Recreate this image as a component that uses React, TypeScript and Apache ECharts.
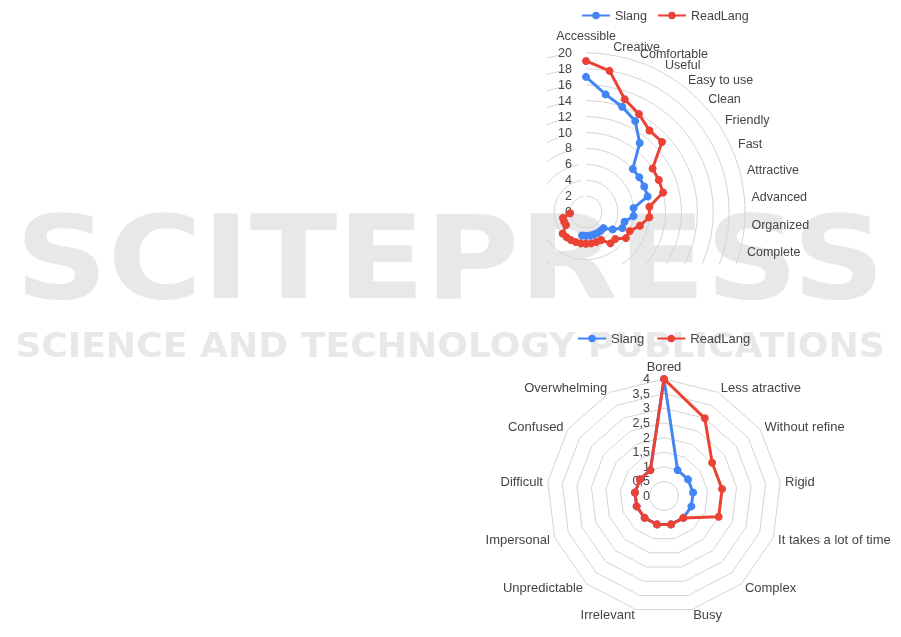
import React, { useEffect, useRef } from 'react';
import * as echarts from 'echarts';

// ---------- data ----------
const seriesNames = ['Slang', 'ReadLang'];
const seriesColors = ['#4285F4', '#EA4335'];

// top chart (radar of positive adjectives, only the upper-right part is visible)
const topCategories = [
  'Accessible', 'Creative', 'Comfortable', 'Useful', 'Easy to use', 'Clean',
  'Friendly', 'Fast', 'Attractive', 'Advanced', 'Organized', 'Complete',
];
const topCategoryCount = 38;
const topSlang = [17, 15, 14, 13, 11, 8, 8, 8, 8, 6, 6, 5, 5, 4, 3, 3, 3, 3, 3, 3, 3];
const topReadLang = [19, 18, 15, 14, 13, 13, 10, 10, 10, 8, 8, 7, 6, 6, 5, 5, 4, 4, 4, 4, 4, 4, 4, 4, 4, 3, 3, 3, 2];
const topTickMax = 20;
const topTickStep = 2;

// bottom chart (radar of negative adjectives)
const bottomCategories = [
  'Bored', 'Less atractive', 'Without refine', 'Rigid', 'It takes a lot of time',
  'Complex', 'Busy', 'Irrelevant', 'Unpredictable', 'Impersonal', 'Difficult',
  'Confused', 'Overwhelming',
];
const bottomSlang = [4, 1, 1, 1, 1, 1, 1, 1, 1, 1, 1, 1, 1];
const bottomReadLang = [4, 3, 2, 2, 2, 1, 1, 1, 1, 1, 1, 1, 1];
const bottomTickValues = [0, 0.5, 1, 1.5, 2, 2.5, 3, 3.5, 4];
const bottomTickLabels = ['0', '0,5', '1', '1,5', '2', '2,5', '3', '3,5', '4'];

// watermark texts
const watermarkTitle = 'SCITEPRESS';
const watermarkSubtitle = 'SCIENCE AND TECHNOLOGY PUBLICATIONS';

// ---------- styling ----------
const FONT = "'Liberation Sans', Arial, sans-serif";
const TEXT = '#444444';
const GRID = '#d4d4d4';
const WM = '#e8e8e8';
const LEGEND_ICON =
  'path://M0,3.8 L30,3.8 L30,6.2 L0,6.2 Z M11,5 A4,4 0 1,1 19,5 A4,4 0 1,1 11,5 Z';

// top chart clip window in page coordinates
const TOP_LEFT = 547;
const TOP_HEIGHT = 264;

function measure(text: string, font: string): number {
  const ctx = document.createElement('canvas').getContext('2d');
  if (!ctx) return 0;
  ctx.font = font;
  return ctx.measureText(text).width;
}

export default function App() {
  const mainRef = useRef<HTMLDivElement>(null);
  const topRef = useRef<HTMLDivElement>(null);

  useEffect(() => {
    if (!mainRef.current || !topRef.current) return;
    const main = echarts.init(mainRef.current, null, { renderer: 'svg' });
    const top = echarts.init(topRef.current, null, { renderer: 'svg' });

    // ---- top chart ----
    const topAxisData = Array.from({ length: topCategoryCount }, (_, i) => topCategories[i] ?? '');
    const topSeriesData = [topSlang, topReadLang];
    top.setOption({
      animation: false,
      backgroundColor: 'transparent',
      legend: {
        left: 30,
        top: 4,
        itemWidth: 28,
        itemHeight: 8,
        itemGap: 11,
        icon: LEGEND_ICON,
        data: seriesNames,
        textStyle: { color: TEXT, fontSize: 12.5, fontFamily: FONT },
      },
      polar: { center: [586 - TOP_LEFT, 212], radius: 159 },
      angleAxis: {
        type: 'category',
        data: topAxisData,
        boundaryGap: false,
        startAngle: 90,
        clockwise: true,
        axisLine: { show: false },
        axisTick: { show: false },
        splitLine: { show: false },
        axisLabel: { show: false },
      },
      radiusAxis: {
        type: 'value',
        min: 0,
        max: topTickMax,
        interval: topTickStep,
        axisLine: { show: false },
        axisTick: { show: false },
        axisLabel: { margin: 14, color: TEXT, fontSize: 12.5, fontFamily: FONT },
        splitLine: { show: true, lineStyle: { color: GRID, width: 1 } },
      },
      series: seriesNames.map((name, s) => ({
        type: 'line',
        name,
        coordinateSystem: 'polar',
        data: topSeriesData[s],
        symbol: 'circle',
        symbolSize: 8,
        showSymbol: true,
        lineStyle: { width: 3, color: seriesColors[s] },
        itemStyle: { color: seriesColors[s] },
        z: 3 + s,
      })),
    });

    // category labels of the top chart, placed just outside the outer ring
    const c0 = top.convertToPixel({ seriesIndex: 0 }, [0, 0]) as number[];
    const labelEls: any[] = [];
    topCategories.forEach((name, i) => {
      const p = top.convertToPixel({ seriesIndex: 0 }, [topTickMax, i]) as number[];
      if (!p || !c0) return;
      const dx = p[0] - c0[0];
      const dy = p[1] - c0[1];
      const len = Math.hypot(dx, dy) || 1;
      const isTop = Math.abs(dx) / len < 0.05;
      const k = (len + (isTop ? 10 : 7)) / len;
      labelEls.push({
        type: 'text',
        x: c0[0] + dx * k,
        y: c0[1] + dy * k - 1,
        z: 10,
        silent: true,
        style: {
          text: name,
          fill: TEXT,
          font: `12.5px ${FONT}`,
          align: isTop ? 'center' : 'left',
          verticalAlign: isTop ? 'bottom' : 'middle',
        },
      });
    });
    top.setOption({ graphic: { elements: labelEls } });

    // ---- bottom chart + watermark ----
    // ECharts radar runs counter-clockwise; reorder so the chart reads clockwise
    const order = bottomCategories.map((_, k) => (k === 0 ? 0 : bottomCategories.length - k));
    const bottomSeriesData = [bottomSlang, bottomReadLang];

    const titleFont = `bold 116px 'DejaVu Sans'`;
    const subFont = `bold 33px 'DejaVu Sans'`;
    const titleW = measure(watermarkTitle, titleFont) || 800;
    const subW = measure(watermarkSubtitle, subFont) || 800;

    main.setOption({
      animation: false,
      legend: {
        left: 573,
        top: 327,
        itemWidth: 28,
        itemHeight: 8,
        itemGap: 13,
        icon: LEGEND_ICON,
        data: seriesNames,
        textStyle: { color: TEXT, fontSize: 13, fontFamily: FONT },
      },
      radar: {
        center: [664, 496],
        radius: 117,
        startAngle: 90,
        shape: 'polygon',
        splitNumber: 8,
        nameGap: 5,
        axisName: { color: TEXT, fontSize: 13, fontFamily: FONT },
        axisLine: { show: false },
        axisTick: { show: false },
        axisLabel: { show: false },
        splitLine: { lineStyle: { color: GRID, width: 1 } },
        splitArea: { show: false },
        indicator: order.map((idx, k) => ({
          name: bottomCategories[idx],
          min: bottomTickValues[0],
          max: bottomTickValues[bottomTickValues.length - 1],
          ...(k === 0
            ? {
                axisLabel: {
                  show: true,
                  margin: 14,
                  color: TEXT,
                  fontSize: 12.5,
                  fontFamily: FONT,
                  formatter: (v: number) => {
                    const i = bottomTickValues.indexOf(v);
                    return i >= 0 ? bottomTickLabels[i] : '';
                  },
                },
              }
            : {}),
        })),
      },
      series: seriesNames.map((name, s) => ({
        type: 'radar',
        name,
        z: 3 + s,
        symbol: 'circle',
        symbolSize: 8,
        lineStyle: { width: 3, color: seriesColors[s] },
        itemStyle: { color: seriesColors[s] },
        data: [
          {
            name,
            value: order.map((idx) => bottomSeriesData[s][idx]),
            lineStyle: { width: 3, color: seriesColors[s] },
            itemStyle: { color: seriesColors[s] },
          },
        ],
      })),
      graphic: {
        elements: [
          {
            type: 'text',
            x: 450,
            y: 258,
            z: 0,
            scaleX: 870 / titleW,
            silent: true,
            style: {
              text: watermarkTitle,
              font: titleFont,
              fill: WM,
              align: 'center',
              verticalAlign: 'middle',
            },
          },
          {
            type: 'text',
            x: 450,
            y: 346,
            z: 0,
            scaleX: 870 / subW,
            silent: true,
            style: {
              text: watermarkSubtitle,
              font: subFont,
              fill: WM,
              align: 'center',
              verticalAlign: 'middle',
            },
          },
        ],
      },
    });

    return () => {
      top.dispose();
      main.dispose();
    };
  }, []);

  return (
    <div style={{ position: 'relative', width: 901, height: 637 }}>
      <div
        ref={mainRef}
        style={{ position: 'fixed', left: 0, top: 0, width: 901, height: 637 }}
      />
      <div
        ref={topRef}
        style={{
          position: 'fixed',
          left: TOP_LEFT,
          top: 0,
          width: 901 - TOP_LEFT,
          height: TOP_HEIGHT,
          overflow: 'hidden',
        }}
      />
    </div>
  );
}
